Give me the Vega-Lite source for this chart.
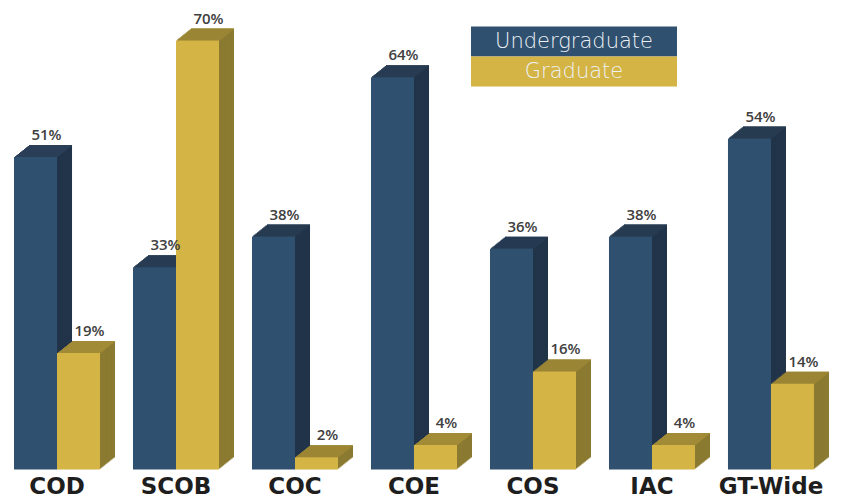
{
  "$schema": "https://vega.github.io/schema/vega-lite/v6.json",
  "width": 800,
  "height": 429,
  "autosize": "none",
  "padding": {"left": 14, "top": 40.5, "right": 31, "bottom": 31.5},
  "background": "white",
  "config": {"view": {"stroke": null}},
  "data": {"values": [
    {"college": "COD", "series": "Undergraduate", "value": 0.51},
    {"college": "COD", "series": "Graduate", "value": 0.19},
    {"college": "SCOB", "series": "Undergraduate", "value": 0.33},
    {"college": "SCOB", "series": "Graduate", "value": 0.70},
    {"college": "COC", "series": "Undergraduate", "value": 0.38},
    {"college": "COC", "series": "Graduate", "value": 0.02},
    {"college": "COE", "series": "Undergraduate", "value": 0.64},
    {"college": "COE", "series": "Graduate", "value": 0.04},
    {"college": "COS", "series": "Undergraduate", "value": 0.36},
    {"college": "COS", "series": "Graduate", "value": 0.16},
    {"college": "IAC", "series": "Undergraduate", "value": 0.38},
    {"college": "IAC", "series": "Graduate", "value": 0.04},
    {"college": "GT-Wide", "series": "Undergraduate", "value": 0.54},
    {"college": "GT-Wide", "series": "Graduate", "value": 0.14}
  ]},
  "encoding": {
    "x": {"field": "college", "type": "nominal", "sort": null,
      "scale": {"paddingInner": 0.277, "paddingOuter": 0},
      "axis": {"title": null, "ticks": false, "domain": false, "labelAngle": 0, "labelFont": "DejaVu Sans", "labelFontWeight": "bold", "labelFontSize": 23, "labelColor": "#1e1e1e", "labelPadding": 6}},
    "y": {"field": "value", "type": "quantitative", "scale": {"domain": [0, 0.7], "nice": false}, "axis": null}
  },
  "layer": [
    {"transform": [{"filter": "datum.series==='Undergraduate'"}], "mark": {"type": "bar", "fill": "#213449", "width": {"band": 0.5}, "xOffset": -6.5, "x2Offset": -6.5, "yOffset": -12, "y2Offset": -12}},
    {"transform": [{"filter": "datum.series==='Undergraduate'"}], "mark": {"type": "bar", "fill": "#2a3f57", "width": {"band": 0.5}, "xOffset": -6.5, "x2Offset": -6.5, "yOffset": -12, "y2Offset": -11}, "encoding": {"y2": {"field": "value"}}},
    {"transform": [{"filter": "datum.series==='Undergraduate'"}], "mark": {"type": "bar", "fill": "#213449", "width": {"band": 0.5}, "xOffset": -7.75, "x2Offset": -7.75, "yOffset": -11, "y2Offset": -11}},
    {"transform": [{"filter": "datum.series==='Undergraduate'"}], "mark": {"type": "bar", "fill": "#2a3f57", "width": {"band": 0.5}, "xOffset": -7.75, "x2Offset": -7.75, "yOffset": -11, "y2Offset": -10}, "encoding": {"y2": {"field": "value"}}},
    {"transform": [{"filter": "datum.series==='Undergraduate'"}], "mark": {"type": "bar", "fill": "#213449", "width": {"band": 0.5}, "xOffset": -9, "x2Offset": -9, "yOffset": -10, "y2Offset": -10}},
    {"transform": [{"filter": "datum.series==='Undergraduate'"}], "mark": {"type": "bar", "fill": "#2a3f57", "width": {"band": 0.5}, "xOffset": -9, "x2Offset": -9, "yOffset": -10, "y2Offset": -9}, "encoding": {"y2": {"field": "value"}}},
    {"transform": [{"filter": "datum.series==='Undergraduate'"}], "mark": {"type": "bar", "fill": "#213449", "width": {"band": 0.5}, "xOffset": -10.25, "x2Offset": -10.25, "yOffset": -9, "y2Offset": -9}},
    {"transform": [{"filter": "datum.series==='Undergraduate'"}], "mark": {"type": "bar", "fill": "#2a3f57", "width": {"band": 0.5}, "xOffset": -10.25, "x2Offset": -10.25, "yOffset": -9, "y2Offset": -8}, "encoding": {"y2": {"field": "value"}}},
    {"transform": [{"filter": "datum.series==='Undergraduate'"}], "mark": {"type": "bar", "fill": "#213449", "width": {"band": 0.5}, "xOffset": -11.5, "x2Offset": -11.5, "yOffset": -8, "y2Offset": -8}},
    {"transform": [{"filter": "datum.series==='Undergraduate'"}], "mark": {"type": "bar", "fill": "#2a3f57", "width": {"band": 0.5}, "xOffset": -11.5, "x2Offset": -11.5, "yOffset": -8, "y2Offset": -7}, "encoding": {"y2": {"field": "value"}}},
    {"transform": [{"filter": "datum.series==='Undergraduate'"}], "mark": {"type": "bar", "fill": "#213449", "width": {"band": 0.5}, "xOffset": -12.75, "x2Offset": -12.75, "yOffset": -7, "y2Offset": -7}},
    {"transform": [{"filter": "datum.series==='Undergraduate'"}], "mark": {"type": "bar", "fill": "#2a3f57", "width": {"band": 0.5}, "xOffset": -12.75, "x2Offset": -12.75, "yOffset": -7, "y2Offset": -6}, "encoding": {"y2": {"field": "value"}}},
    {"transform": [{"filter": "datum.series==='Undergraduate'"}], "mark": {"type": "bar", "fill": "#213449", "width": {"band": 0.5}, "xOffset": -14, "x2Offset": -14, "yOffset": -6, "y2Offset": -6}},
    {"transform": [{"filter": "datum.series==='Undergraduate'"}], "mark": {"type": "bar", "fill": "#2a3f57", "width": {"band": 0.5}, "xOffset": -14, "x2Offset": -14, "yOffset": -6, "y2Offset": -5}, "encoding": {"y2": {"field": "value"}}},
    {"transform": [{"filter": "datum.series==='Undergraduate'"}], "mark": {"type": "bar", "fill": "#213449", "width": {"band": 0.5}, "xOffset": -15.25, "x2Offset": -15.25, "yOffset": -5, "y2Offset": -5}},
    {"transform": [{"filter": "datum.series==='Undergraduate'"}], "mark": {"type": "bar", "fill": "#2a3f57", "width": {"band": 0.5}, "xOffset": -15.25, "x2Offset": -15.25, "yOffset": -5, "y2Offset": -4}, "encoding": {"y2": {"field": "value"}}},
    {"transform": [{"filter": "datum.series==='Undergraduate'"}], "mark": {"type": "bar", "fill": "#213449", "width": {"band": 0.5}, "xOffset": -16.5, "x2Offset": -16.5, "yOffset": -4, "y2Offset": -4}},
    {"transform": [{"filter": "datum.series==='Undergraduate'"}], "mark": {"type": "bar", "fill": "#2a3f57", "width": {"band": 0.5}, "xOffset": -16.5, "x2Offset": -16.5, "yOffset": -4, "y2Offset": -3}, "encoding": {"y2": {"field": "value"}}},
    {"transform": [{"filter": "datum.series==='Undergraduate'"}], "mark": {"type": "bar", "fill": "#213449", "width": {"band": 0.5}, "xOffset": -17.75, "x2Offset": -17.75, "yOffset": -3, "y2Offset": -3}},
    {"transform": [{"filter": "datum.series==='Undergraduate'"}], "mark": {"type": "bar", "fill": "#2a3f57", "width": {"band": 0.5}, "xOffset": -17.75, "x2Offset": -17.75, "yOffset": -3, "y2Offset": -2}, "encoding": {"y2": {"field": "value"}}},
    {"transform": [{"filter": "datum.series==='Undergraduate'"}], "mark": {"type": "bar", "fill": "#213449", "width": {"band": 0.5}, "xOffset": -19, "x2Offset": -19, "yOffset": -2, "y2Offset": -2}},
    {"transform": [{"filter": "datum.series==='Undergraduate'"}], "mark": {"type": "bar", "fill": "#2a3f57", "width": {"band": 0.5}, "xOffset": -19, "x2Offset": -19, "yOffset": -2, "y2Offset": -1}, "encoding": {"y2": {"field": "value"}}},
    {"transform": [{"filter": "datum.series==='Undergraduate'"}], "mark": {"type": "bar", "fill": "#213449", "width": {"band": 0.5}, "xOffset": -20.25, "x2Offset": -20.25, "yOffset": -1, "y2Offset": -1}},
    {"transform": [{"filter": "datum.series==='Undergraduate'"}], "mark": {"type": "bar", "fill": "#2a3f57", "width": {"band": 0.5}, "xOffset": -20.25, "x2Offset": -20.25, "yOffset": -1, "y2Offset": 0}, "encoding": {"y2": {"field": "value"}}},

    {"transform": [{"filter": "datum.series==='Graduate'"}], "mark": {"type": "bar", "fill": "#8b7a31", "width": {"band": 0.5}, "xOffset": 36.5, "x2Offset": 36.5, "yOffset": -12, "y2Offset": -12}},
    {"transform": [{"filter": "datum.series==='Graduate'"}], "mark": {"type": "bar", "fill": "#a28b36", "width": {"band": 0.5}, "xOffset": 36.5, "x2Offset": 36.5, "yOffset": -12, "y2Offset": -11}, "encoding": {"y2": {"field": "value"}}},
    {"transform": [{"filter": "datum.series==='Graduate'"}], "mark": {"type": "bar", "fill": "#8b7a31", "width": {"band": 0.5}, "xOffset": 35.25, "x2Offset": 35.25, "yOffset": -11, "y2Offset": -11}},
    {"transform": [{"filter": "datum.series==='Graduate'"}], "mark": {"type": "bar", "fill": "#a28b36", "width": {"band": 0.5}, "xOffset": 35.25, "x2Offset": 35.25, "yOffset": -11, "y2Offset": -10}, "encoding": {"y2": {"field": "value"}}},
    {"transform": [{"filter": "datum.series==='Graduate'"}], "mark": {"type": "bar", "fill": "#8b7a31", "width": {"band": 0.5}, "xOffset": 34, "x2Offset": 34, "yOffset": -10, "y2Offset": -10}},
    {"transform": [{"filter": "datum.series==='Graduate'"}], "mark": {"type": "bar", "fill": "#a28b36", "width": {"band": 0.5}, "xOffset": 34, "x2Offset": 34, "yOffset": -10, "y2Offset": -9}, "encoding": {"y2": {"field": "value"}}},
    {"transform": [{"filter": "datum.series==='Graduate'"}], "mark": {"type": "bar", "fill": "#8b7a31", "width": {"band": 0.5}, "xOffset": 32.75, "x2Offset": 32.75, "yOffset": -9, "y2Offset": -9}},
    {"transform": [{"filter": "datum.series==='Graduate'"}], "mark": {"type": "bar", "fill": "#a28b36", "width": {"band": 0.5}, "xOffset": 32.75, "x2Offset": 32.75, "yOffset": -9, "y2Offset": -8}, "encoding": {"y2": {"field": "value"}}},
    {"transform": [{"filter": "datum.series==='Graduate'"}], "mark": {"type": "bar", "fill": "#8b7a31", "width": {"band": 0.5}, "xOffset": 31.5, "x2Offset": 31.5, "yOffset": -8, "y2Offset": -8}},
    {"transform": [{"filter": "datum.series==='Graduate'"}], "mark": {"type": "bar", "fill": "#a28b36", "width": {"band": 0.5}, "xOffset": 31.5, "x2Offset": 31.5, "yOffset": -8, "y2Offset": -7}, "encoding": {"y2": {"field": "value"}}},
    {"transform": [{"filter": "datum.series==='Graduate'"}], "mark": {"type": "bar", "fill": "#8b7a31", "width": {"band": 0.5}, "xOffset": 30.25, "x2Offset": 30.25, "yOffset": -7, "y2Offset": -7}},
    {"transform": [{"filter": "datum.series==='Graduate'"}], "mark": {"type": "bar", "fill": "#a28b36", "width": {"band": 0.5}, "xOffset": 30.25, "x2Offset": 30.25, "yOffset": -7, "y2Offset": -6}, "encoding": {"y2": {"field": "value"}}},
    {"transform": [{"filter": "datum.series==='Graduate'"}], "mark": {"type": "bar", "fill": "#8b7a31", "width": {"band": 0.5}, "xOffset": 29, "x2Offset": 29, "yOffset": -6, "y2Offset": -6}},
    {"transform": [{"filter": "datum.series==='Graduate'"}], "mark": {"type": "bar", "fill": "#a28b36", "width": {"band": 0.5}, "xOffset": 29, "x2Offset": 29, "yOffset": -6, "y2Offset": -5}, "encoding": {"y2": {"field": "value"}}},
    {"transform": [{"filter": "datum.series==='Graduate'"}], "mark": {"type": "bar", "fill": "#8b7a31", "width": {"band": 0.5}, "xOffset": 27.75, "x2Offset": 27.75, "yOffset": -5, "y2Offset": -5}},
    {"transform": [{"filter": "datum.series==='Graduate'"}], "mark": {"type": "bar", "fill": "#a28b36", "width": {"band": 0.5}, "xOffset": 27.75, "x2Offset": 27.75, "yOffset": -5, "y2Offset": -4}, "encoding": {"y2": {"field": "value"}}},
    {"transform": [{"filter": "datum.series==='Graduate'"}], "mark": {"type": "bar", "fill": "#8b7a31", "width": {"band": 0.5}, "xOffset": 26.5, "x2Offset": 26.5, "yOffset": -4, "y2Offset": -4}},
    {"transform": [{"filter": "datum.series==='Graduate'"}], "mark": {"type": "bar", "fill": "#a28b36", "width": {"band": 0.5}, "xOffset": 26.5, "x2Offset": 26.5, "yOffset": -4, "y2Offset": -3}, "encoding": {"y2": {"field": "value"}}},
    {"transform": [{"filter": "datum.series==='Graduate'"}], "mark": {"type": "bar", "fill": "#8b7a31", "width": {"band": 0.5}, "xOffset": 25.25, "x2Offset": 25.25, "yOffset": -3, "y2Offset": -3}},
    {"transform": [{"filter": "datum.series==='Graduate'"}], "mark": {"type": "bar", "fill": "#a28b36", "width": {"band": 0.5}, "xOffset": 25.25, "x2Offset": 25.25, "yOffset": -3, "y2Offset": -2}, "encoding": {"y2": {"field": "value"}}},
    {"transform": [{"filter": "datum.series==='Graduate'"}], "mark": {"type": "bar", "fill": "#8b7a31", "width": {"band": 0.5}, "xOffset": 24, "x2Offset": 24, "yOffset": -2, "y2Offset": -2}},
    {"transform": [{"filter": "datum.series==='Graduate'"}], "mark": {"type": "bar", "fill": "#a28b36", "width": {"band": 0.5}, "xOffset": 24, "x2Offset": 24, "yOffset": -2, "y2Offset": -1}, "encoding": {"y2": {"field": "value"}}},
    {"transform": [{"filter": "datum.series==='Graduate'"}], "mark": {"type": "bar", "fill": "#8b7a31", "width": {"band": 0.5}, "xOffset": 22.75, "x2Offset": 22.75, "yOffset": -1, "y2Offset": -1}},
    {"transform": [{"filter": "datum.series==='Graduate'"}], "mark": {"type": "bar", "fill": "#a28b36", "width": {"band": 0.5}, "xOffset": 22.75, "x2Offset": 22.75, "yOffset": -1, "y2Offset": 0}, "encoding": {"y2": {"field": "value"}}},

    {"transform": [{"filter": "datum.series==='Undergraduate'"}], "mark": {"type": "bar", "width": {"band": 0.5}, "xOffset": -21.5, "x2Offset": -21.5, "opacity": 1},
      "encoding": {"color": {"field": "series", "type": "nominal",
        "scale": {"domain": ["Undergraduate", "Graduate"], "range": ["#30506f", "#d4b445"]},
        "legend": {"orient": "none", "legendX": 545, "legendY": -14, "title": null, "padding": 0,
          "symbolType": "M-6.8667,-1H6.8667V1H-6.8667Z", "symbolSize": 900, "symbolStrokeWidth": 0, "symbolOpacity": 1,
          "labelFont": "DejaVu Sans", "labelFontWeight": 200, "labelFontSize": 21, "labelColor": "#eef2f6",
          "labelAlign": "center", "labelOffset": -15, "labelLimit": 400, "rowPadding": 0}}}},
    {"transform": [{"filter": "datum.series==='Graduate'"}], "mark": {"type": "bar", "width": {"band": 0.5}, "xOffset": 21.5, "x2Offset": 21.5, "opacity": 1},
      "encoding": {"color": {"field": "series", "type": "nominal"}}},

    {"transform": [{"filter": "datum.series==='Undergraduate'"}], "mark": {"type": "text", "dx": -10.5, "dy": -17, "baseline": "alphabetic", "align": "center", "font": "Open Sans", "fontWeight": 600, "fontSize": 15, "color": "#404040"},
      "encoding": {"text": {"field": "value", "format": ".0%"}}},
    {"transform": [{"filter": "datum.series==='Graduate'"}], "mark": {"type": "text", "dx": 32.5, "dy": -17, "baseline": "alphabetic", "align": "center", "font": "Open Sans", "fontWeight": 600, "fontSize": 15, "color": "#404040"},
      "encoding": {"text": {"field": "value", "format": ".0%"}}}
  ]
}
